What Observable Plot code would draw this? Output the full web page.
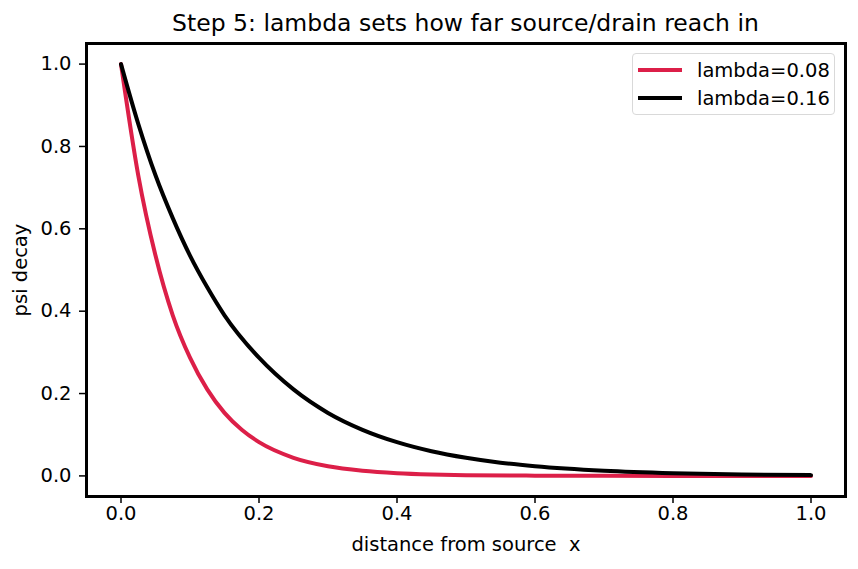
<!DOCTYPE html>
<html>
<head>
<meta charset="utf-8">
<script src="https://cdn.jsdelivr.net/npm/d3@7"></script>
<script src="https://cdn.jsdelivr.net/npm/@observablehq/plot@0.6"></script>
<style>
  html, body { margin: 0; padding: 0; background: #fff; }
  #wrap { position: relative; width: 858px; height: 569px; font-family: "DejaVu Sans", sans-serif; }
  #title { position: absolute; left: 86px; width: 759px; top: 8px; text-align: center; font-size: 23.5px; line-height: 30px; color: #000; white-space: nowrap; }
  #legend { position: absolute; left: 632px; top: 53px; width: 201px; height: 60px; border: 1px solid #d9d9d9; border-radius: 4px; background: rgba(255,255,255,0.8); font-size: 19.5px; }
  .row { position: absolute; left: 0; height: 24px; display: flex; align-items: center; white-space: nowrap; }
  .sw { width: 44px; height: 4px; margin-left: 5px; margin-right: 15px; }
  svg text { white-space: pre; }
</style>
</head>
<body>
<div id="wrap">
  <div id="chart"></div>
  <div id="title">Step 5: lambda sets how far source/drain reach in</div>
  <div id="legend"></div>
</div>
<script>
const seriesNames = ["lambda=0.08", "lambda=0.16"];
const seriesColors = ["#dc1f48", "#000000"];

const x008 = [0, 0.025, 0.05, 0.075, 0.1, 0.125, 0.15, 0.175, 0.2, 0.25, 0.3, 0.35, 0.4, 0.45, 0.5, 0.6, 0.7, 0.8, 0.9, 1.0];
const y008 = [1.0, 0.73, 0.535, 0.39, 0.287, 0.21, 0.153, 0.112, 0.082, 0.044, 0.0235, 0.0126, 0.0067, 0.0036, 0.0019, 0.0006, 0.0002, 0.0000, 0.0000, 0.0000];

const x016 = [0, 0.025, 0.05, 0.075, 0.1, 0.125, 0.15, 0.2, 0.25, 0.3, 0.35, 0.4, 0.45, 0.5, 0.55, 0.6, 0.7, 0.8, 0.9, 1.0];
const y016 = [1.0, 0.855, 0.73, 0.626, 0.535, 0.458, 0.39, 0.287, 0.21, 0.153, 0.112, 0.082, 0.06, 0.044, 0.032, 0.0235, 0.0126, 0.0067, 0.0036, 0.0019];

const xTicks = [0, 0.2, 0.4, 0.6, 0.8, 1.0];
const yTicks = [0, 0.2, 0.4, 0.6, 0.8, 1.0];

const data = [
  ...x008.map((x, i) => ({x, y: y008[i], s: seriesNames[0]})),
  ...x016.map((x, i) => ({x, y: y016[i], s: seriesNames[1]}))
];

const chart = Plot.plot({
  width: 858,
  height: 569,
  marginTop: 43,
  marginLeft: 86,
  marginRight: 13,
  marginBottom: 73,
  style: {fontFamily: "DejaVu Sans, sans-serif", fontSize: "19.5px", color: "#000", background: "#fff"},
  x: {domain: [-0.05, 1.05], ticks: xTicks, tickFormat: d3.format(".1f")},
  y: {domain: [-0.05, 1.05], ticks: yTicks, tickFormat: d3.format(".1f")},
  color: {domain: seriesNames, range: seriesColors},
  marks: [
    Plot.line(data, {x: "x", y: "y", z: "s", stroke: "s", strokeWidth: 4, curve: "monotone-x"}),
    Plot.axisX({ticks: xTicks, tickFormat: d3.format(".1f"), tickSize: 7, tickPadding: 3, strokeWidth: 1.5, label: "distance from source  x", labelAnchor: "center", labelArrow: "none", labelOffset: 54, fontSize: 19.5}),
    Plot.axisY({ticks: yTicks, tickFormat: d3.format(".1f"), tickSize: 7, tickPadding: 8, strokeWidth: 1.5, label: "psi decay", labelAnchor: "center", labelArrow: "none", labelOffset: 73, fontSize: 19.5}),
    Plot.frame({stroke: "#000", strokeWidth: 3})
  ]
});
document.getElementById("chart").appendChild(chart);

const legend = document.getElementById("legend");
seriesNames.forEach((n, i) => {
  const row = document.createElement("div");
  row.className = "row";
  row.style.top = (4 + i * 28) + "px";
  const sw = document.createElement("div");
  sw.className = "sw";
  sw.style.background = seriesColors[i];
  const t = document.createElement("span");
  t.textContent = n;
  row.appendChild(sw);
  row.appendChild(t);
  legend.appendChild(row);
});
</script>
</body>
</html>
